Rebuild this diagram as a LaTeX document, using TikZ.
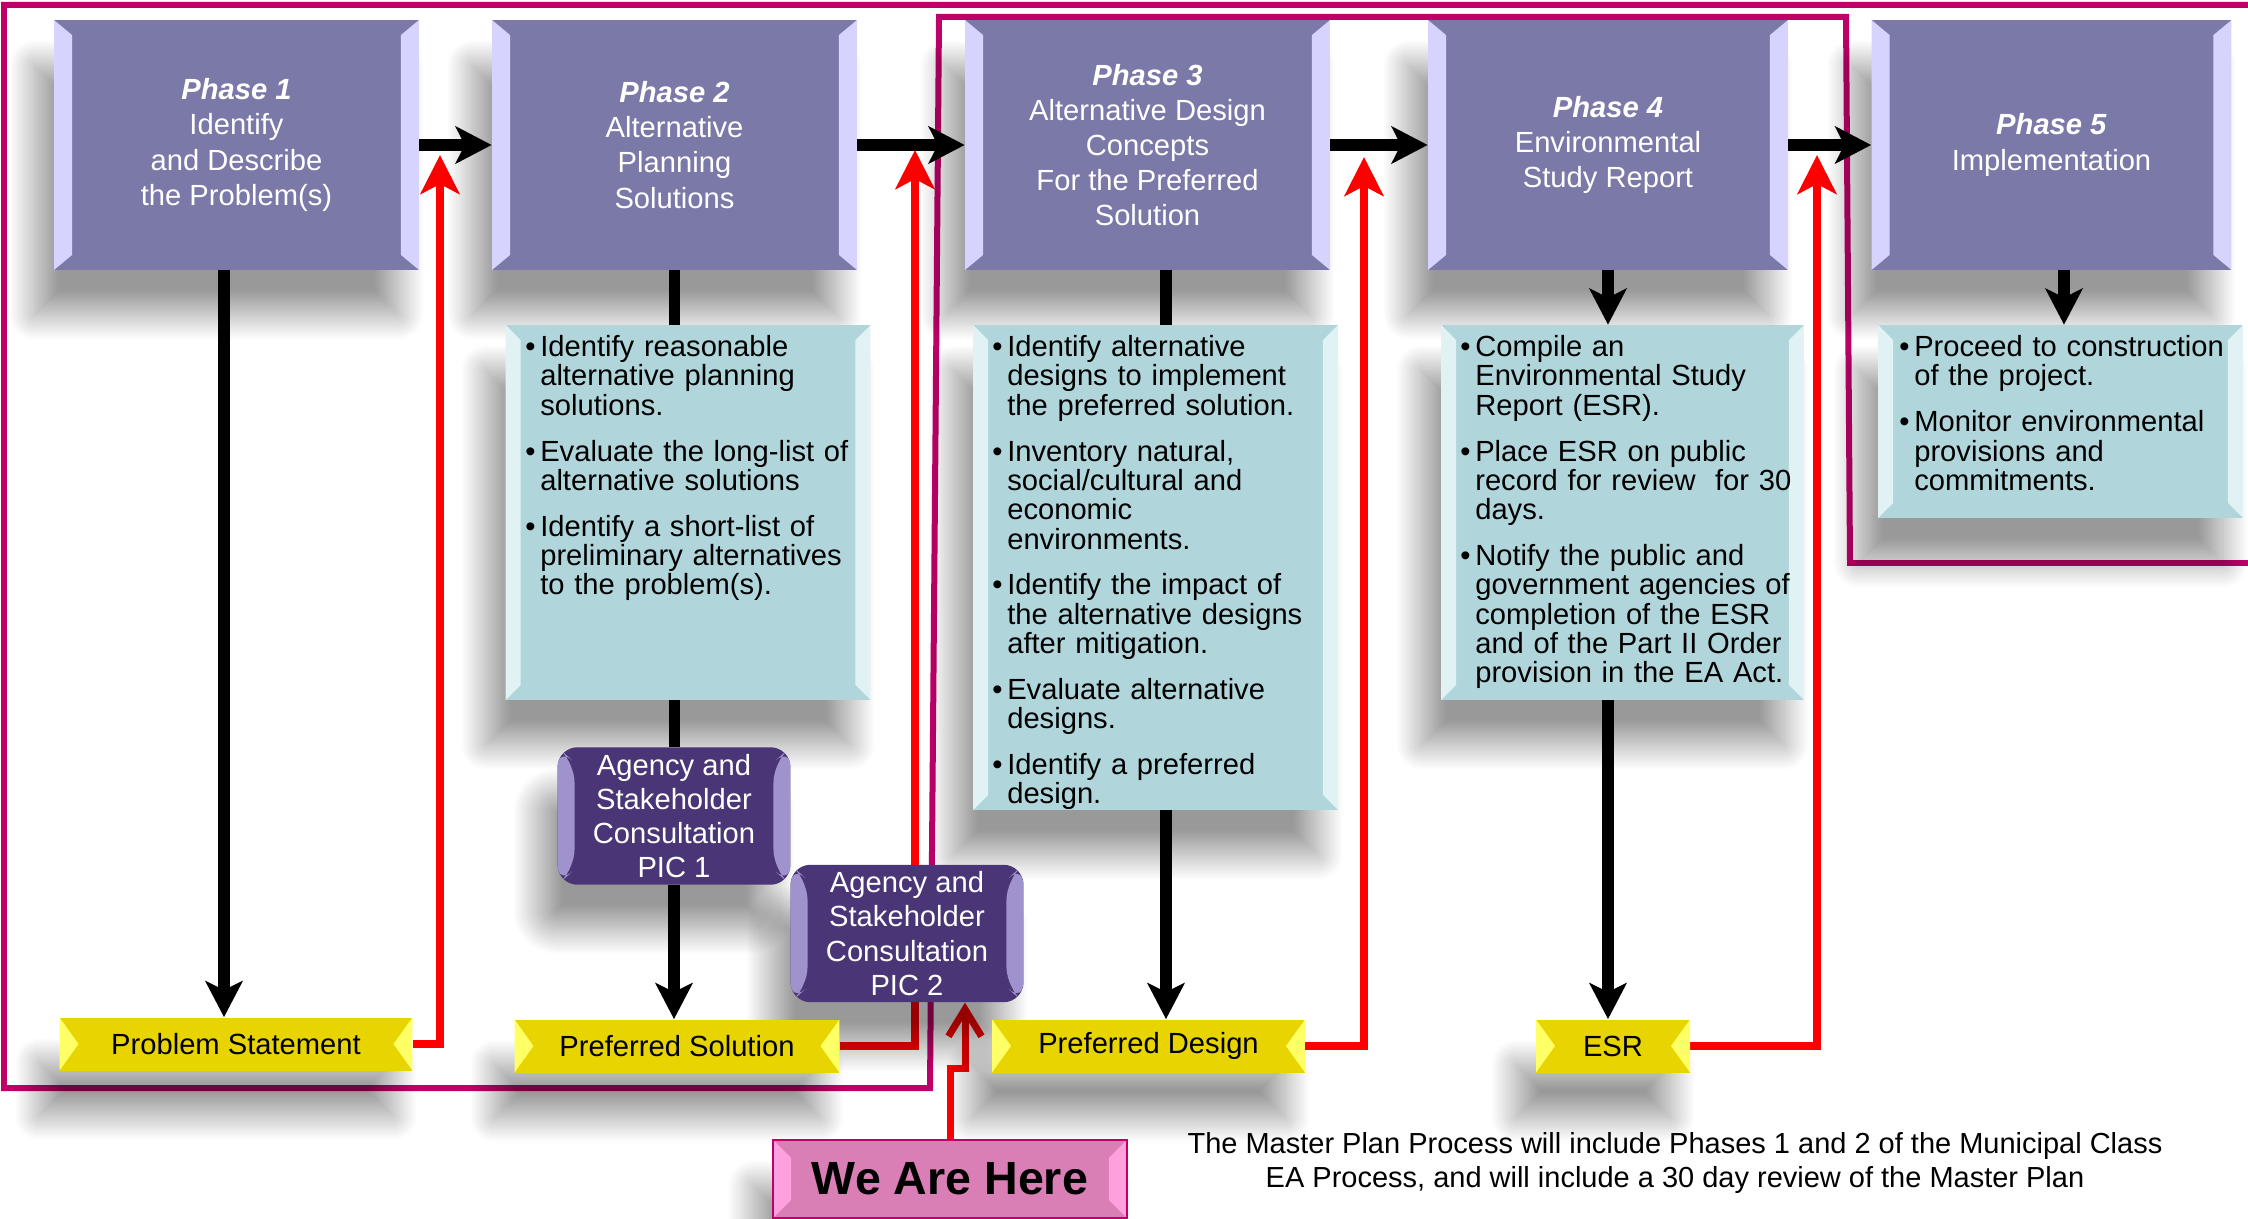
\documentclass[tikz,border=0pt]{standalone}
\usepackage{fontspec}
\setmainfont{Liberation Sans}
\usetikzlibrary{arrows.meta, shadows.blur}

\definecolor{phasecol}{RGB}{123,121,168}
\definecolor{phaselite}{RGB}{214,212,255}
\definecolor{tealcol}{RGB}{176,214,219}
\definecolor{teallite}{RGB}{224,242,243}
\definecolor{meetcol}{RGB}{74,54,118}
\definecolor{meetlite}{RGB}{160,146,204}
\definecolor{tagcol}{RGB}{232,212,0}
\definecolor{taglite}{RGB}{255,255,102}
\definecolor{herecol}{RGB}{217,127,181}
\definecolor{herelite}{RGB}{255,160,222}
\definecolor{magline}{RGB}{190,0,105}

\pgfdeclarelayer{back}
\pgfsetlayers{back,main}

\newcommand{\sidebevel}[3]{%
    \fill[#1] (path picture bounding box.north west) -- ++(#2,-#3)
        -- ([shift={(#2,#3)}]path picture bounding box.south west)
        -- (path picture bounding box.south west) -- cycle;
    \fill[#1] (path picture bounding box.north east) -- ++(-#2,-#3)
        -- ([shift={(-#2,#3)}]path picture bounding box.south east)
        -- (path picture bounding box.south east) -- cycle;}
\newcommand{\tagbevel}[2]{%
    \fill[#1] (path picture bounding box.north west)
        -- ([xshift=#2]path picture bounding box.west)
        -- (path picture bounding box.south west) -- cycle;
    \fill[#1] (path picture bounding box.north east)
        -- ([xshift=-#2]path picture bounding box.east)
        -- (path picture bounding box.south east) -- cycle;}
\newcommand{\blt}[1]{\noindent\hangindent=8.5pt\hangafter=1%
    \makebox[8.5pt][l]{\textbullet}#1\par\vspace{9.4pt}}

\tikzstyle{shad}=[blur shadow={shadow xshift=-0.4cm, shadow yshift=-0.9cm,
    shadow blur radius=0.5cm, shadow blur steps=25, shadow opacity=40}]
\tikzstyle{phase}=[shad, fill=phasecol, minimum width=7.3cm, minimum height=5cm,
    text=white, align=center, font=\fontsize{16.6}{20}\selectfont,
    path picture={\sidebevel{phaselite}{0.36cm}{0.3cm}}]
\tikzstyle{note}=[shad, fill=tealcol, minimum width=7.3cm,
    path picture={\sidebevel{teallite}{0.3cm}{0.3cm}}]
\tikzstyle{items}=[anchor=north west, inner sep=0pt, text width=6.9cm, align=left,
    font=\fontsize{16.6}{16.7}\selectfont]
\tikzstyle{meeting}=[shad, rounded corners=0.4cm, fill=meetcol, minimum width=4.66cm,
    minimum height=2.75cm, inner sep=0pt, text=white, align=center,
    font=\fontsize{16.6}{19.5}\selectfont,
    path picture={\sidebevel{meetlite}{0.34cm}{0.3cm}}]
\tikzstyle{tag}=[shad, fill=tagcol, minimum height=1.06cm,
    font=\fontsize{16.6}{20}\selectfont,
    path picture={\tagbevel{taglite}{0.38cm}}]
\tikzstyle{here}=[shad, fill=herecol, draw=magline, line width=1.2pt,
    minimum width=7.08cm, minimum height=1.56cm,
    font=\bfseries\fontsize{26.5}{30}\selectfont,
    path picture={\sidebevel{herelite}{0.36cm}{0.36cm}}]
\tikzstyle{blk}=[line width=0.23cm, -{Stealth[length=0.72cm, width=0.74cm, inset=0.18cm]}]
\tikzstyle{stem}=[line width=0.23cm]
\tikzstyle{redarr}=[red, line width=0.16cm, -{Stealth[length=0.78cm, width=0.78cm, inset=0.2cm]}]
\tikzstyle{herearr}=[red, line width=0.14cm, -{Straight Barb[length=0.54cm, width=0.66cm]}]
\tikzstyle{mline}=[draw=magline, line width=0.12cm]

\begin{document}
\begin{tikzpicture}[x=0.02cm, y=-0.02cm]
    \useasboundingbox (0,0) rectangle (2248,1219);

    \node [phase](p1) at (236.5,145) {\textbf{\textit{Phase 1}}\\Identify\\and Describe\\the Problem(s)};
    \node [phase](p2) at (674.5,145) {\textbf{\textit{Phase 2}}\\Alternative\\Planning\\Solutions};
    \node [phase](p3) at (1147.5,145) {\textbf{\textit{Phase 3}}\\Alternative Design\\Concepts\\For the Preferred\\Solution};
    \node [phase, minimum width=7.2cm](p4) at (1608,145) {\textbf{\textit{Phase 4}}\\Environmental\\Study Report};
    \node [phase, minimum width=7.2cm](p5) at (2051.5,145) {\textbf{\textit{Phase 5}}\\Implementation};

    \node [note, minimum height=7.5cm](t2) at (688,512.5) {};
    \node [note, minimum height=9.7cm](t3) at (1155.5,567.5) {};
    \node [note, minimum height=7.5cm, minimum width=7.26cm](t4) at (1622.5,512.5) {};
    \node [note, minimum height=3.86cm](t5) at (2060.5,421.5) {};

    \node [items](l2) at (525,335) {%
        \blt{Identify reasonable\newline alternative planning\newline solutions.}
        \blt{Evaluate the long-list of\newline alternative solutions}
        \blt{Identify a short-list of\newline preliminary alternatives\newline to the problem(s).}};
    \node [items](l3) at (992,335) {%
        \blt{Identify alternative\newline designs to implement\newline the preferred solution.}
        \blt{Inventory natural,\newline social/cultural and\newline economic\newline environments.}
        \blt{Identify the impact of\newline the alternative designs\newline after mitigation.}
        \blt{Evaluate alternative\newline designs.}
        \blt{Identify a preferred\newline design.}};
    \node [items](l4) at (1460,335) {%
        \blt{Compile an\newline Environmental Study\newline Report (ESR).}
        \blt{Place ESR on public\newline record for review\ \ for 30\newline days.}
        \blt{Notify the public and\newline government agencies of\newline completion of the ESR\newline and of the Part II Order\newline provision in the EA Act.}};
    \node [items](l5) at (1899,335) {%
        \blt{Proceed to construction\newline of the project.}
        \blt{Monitor environmental\newline provisions and\newline commitments.}};

    \node [meeting](m1) at (674,816) {Agency and\\Stakeholder\\Consultation\\PIC 1};
    \node [meeting](m2) at (907,933.5) {Agency and\\Stakeholder\\Consultation\\PIC 2};

    \node [tag, minimum width=7.06cm](ps) at (236,1044) {Problem Statement};
    \node [tag, minimum width=6.5cm](psol) at (677,1046) {Preferred Solution};
    \node [tag, minimum width=6.26cm](pd) at (1148.5,1046) {Preferred Design};
    \node [tag, minimum width=3.08cm](esr) at (1613,1046) {ESR};

    \node [here](wah) at (950,1179) {We Are Here};
    \node [align=center, font=\fontsize{16.5}{19.9}\selectfont](txt) at (1675,1163)
        {The Master Plan Process will include Phases 1 and 2 of the Municipal Class\\
         EA Process, and will include a 30 day review of the Master Plan};

    \coordinate (r1) at (440,155);
    \coordinate (r2) at (915,150);
    \coordinate (r3) at (1364,157);
    \coordinate (r4) at (1817,155);
    \coordinate (j) at (965,1068);
    \coordinate (s1) at ([xshift=-0.25cm]p1.south);
    \coordinate (s3) at ([xshift=0.37cm]p3.south);
    \coordinate (s5) at ([xshift=0.25cm]p5.south);

    \begin{pgfonlayer}{back}
        \draw[mline] (2248,5) -- (4,5) -- (4,1088) -- (930,1088) -- (939,17)
            -- (1846,17) -- (1850,563) -- (2248,563);

        \path (p1.east) edge[blk] (p2.west);
        \path (p2.east) edge[blk] (p3.west);
        \path (p3.east) edge[blk] (p4.west);
        \path (p4.east) edge[blk] (p5.west);

        \draw[blk] (s1) -- (s1 |- ps.north);
        \draw[stem] (p2.south) -- (p2.south |- t2.north);
        \draw[stem] (p2.south |- t2.south) -- (p2.south |- m1.north);
        \draw[blk] (m1.south) -- (m1.south |- psol.north);
        \draw[stem] (s3) -- (s3 |- t3.north);
        \draw[blk] (s3 |- t3.south) -- (s3 |- pd.north);
        \draw[blk] (p4.south) -- (p4.south |- t4.north);
        \draw[blk] (p4.south |- t4.south) -- (p4.south |- esr.north);
        \draw[blk] (s5) -- (s5 |- t5.north);

        \draw[redarr] (ps.east) -| (r1);
        \draw[redarr] (psol.east) -| (r2);
        \draw[redarr] (pd.east) -| (r3);
        \draw[redarr] (esr.east) -| (r4);
        \draw[herearr] (wah.north) |- (j) -- (j |- m2.south);
    \end{pgfonlayer}
\end{tikzpicture}
\end{document}
